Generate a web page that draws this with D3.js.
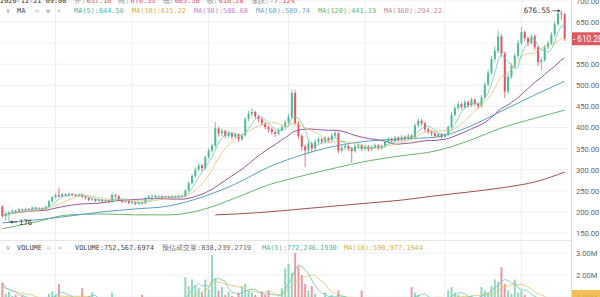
<!DOCTYPE html>
<html><head><meta charset="utf-8">
<script src="https://cdn.jsdelivr.net/npm/d3@7/dist/d3.min.js"></script>
<style>
body{margin:0;background:#fff;overflow:hidden}
svg{display:block}
text{font-family:"DejaVu Sans Mono",monospace;font-size:6.9px}
.ax{font-family:Roboto,"DejaVu Sans",sans-serif;font-size:7.6px;fill:#666}
</style></head><body>
<svg id="chart" width="600" height="297"></svg>
<script>
'use strict';

// daily candles, open = previous close
var firstOpen=212;
var closes=[190,196,199,203,200,206,204,207,205,210,207,209,206,212,225,235,240,237,242,239,
  243,240,238,241,236,233,228,230,226,229,225,227,224,240,237,228,224,226,221,223,
  219,222,220,232,236,238,235,237,234,236,233,237,235,238,236,250,268,285,300,310,
  304,330,345,357,398,386,392,380,387,378,384,372,381,420,432,437,426,420,410,401,
  396,389,385,394,401,412,425,482,410,380,355,346,362,351,366,372,367,375,370,381,
  386,345,352,356,350,344,355,358,349,355,348,353,358,351,356,366,372,368,376,370,
  378,373,381,376,405,416,410,396,390,386,380,384,378,383,401,430,446,455,448,460,
  452,466,456,450,472,502,530,562,582,616,575,485,520,545,570,600,626,612,600,616,
  590,555,560,590,600,620,645,670,668,610.28];
var highs=[216,199,202,206,205,209,208,210,209,213,212,212,211,215,228,238,244,258,245,244,
  246,245,242,244,243,238,235,233,232,232,231,230,229,246,243,239,230,229,228,226,
  225,225,224,235,240,241,240,240,239,239,238,240,239,241,240,254,272,290,306,316,
  314,335,350,362,413,402,398,395,392,390,389,386,386,425,440,446,440,430,424,414,
  405,400,393,398,406,418,432,490,488,415,384,360,368,366,372,378,376,380,378,386,
  393,390,358,361,359,354,360,363,361,359,358,357,362,361,360,370,377,376,380,379,
  382,381,385,384,410,422,420,413,399,394,389,388,387,387,405,436,452,462,460,466,
  464,471,469,460,477,508,538,570,592,630,622,580,528,552,577,608,638,630,616,622,
  620,594,566,596,606,626,652,675,676.55,672];
var lows=[186,180,176,196,197,198,201,202,202,203,204,205,203,204,210,222,232,234,234,236,
  236,237,235,235,233,230,225,225,223,223,222,222,221,222,233,225,221,221,218,218,
  216,216,217,218,230,233,232,232,231,231,230,230,232,232,233,234,248,265,280,296,
  296,300,325,340,352,378,380,374,375,372,373,365,368,378,415,425,420,412,404,395,
  388,383,378,381,390,398,408,420,405,372,345,306,338,340,345,360,360,362,364,366,
  377,338,340,347,345,316,340,350,344,345,343,344,349,346,347,352,362,363,364,365,
  366,368,370,371,374,400,404,390,385,380,375,376,373,375,380,398,426,440,442,444,
  446,448,450,444,447,468,498,525,556,576,568,470,480,515,540,563,595,604,592,596,
  584,545,535,555,585,595,615,640,655,605];
// volume, millions
var volumes=[1.65,1.15,1.25,1.05,1.1,0.95,1.05,0.9,0.85,1.0,0.8,0.85,0.75,0.9,1.15,1.25,1.1,1.6,1.0,0.85,
  0.9,0.8,0.75,0.85,1.4,0.9,1.05,1.2,0.8,0.75,0.8,0.7,0.75,1.2,0.9,0.8,0.7,0.65,0.7,0.6,
  0.65,0.7,1.1,0.95,0.8,0.75,0.7,0.65,0.7,0.6,0.65,0.7,0.6,0.75,0.8,1.9,1.5,1.8,1.55,1.4,
  1.2,1.8,1.35,2.9,1.85,1.3,1.45,1.1,1.25,1.05,1.0,1.2,1.5,1.6,1.3,1.2,1.1,1.0,1.25,1.1,
  1.3,0.95,0.9,1.0,1.4,2.3,2.5,2.1,3.0,2.4,2.0,1.6,1.3,1.5,1.15,1.0,0.9,1.2,0.85,1.1,
  0.95,1.3,0.9,0.8,0.85,1.0,0.8,0.75,1.3,0.8,0.85,0.7,0.75,0.8,0.7,0.9,0.85,0.8,0.9,0.75,
  0.8,0.7,0.85,1.45,1.2,1.1,0.95,1.0,0.85,0.8,0.9,0.75,0.8,0.85,1.3,1.45,1.2,1.1,0.95,1.0,
  0.9,1.05,0.95,0.9,1.45,1.3,1.2,1.5,1.8,1.7,2.35,1.6,1.3,1.15,1.8,1.2,1.3,1.1,0.95,1.0,
  0.8,0.9,0.7,0.6,0.55,0.5,0.6,0.7,0.75,0.75];

var maIdx=[0,10,20,30,40,50,60,70,80,90,100,110,120,130,140,150,160,169];
var ma60=[174,181,190,200,207,214,235,266,306,335,356,368,373,377,401,439,477,509.74];
var ma120=[160,176,193,195,193,193,205,233,264,285,304,321,333,344,368,399,422,441.19];
var ma360Idx=[64,70,80,90,100,110,120,130,140,150,160,169];
var ma360=[193,195,200,207,214,221,228,238,247,257,271,294.22];

var priceTicks=[150,200,250,300,350,400,450,500,550,600,650,700];
var priceLabels=[150,200,250,300,350,400,450,500,550,650,700];
var volTicks=[1,2,3];
var gridIdx=[16,39,62,86,109,133,156];

var lastPrice=610.28, highMark=168, lowMark=2;

var up='#4fba95', dn='#dc5862';
var maCol={ma5:'#6cc8b8',ma10:'#e6c170',ma30:'#95569a',ma60:'#5b9fc0',ma120:'#69b56a',ma360:'#a24f4a'};

var svg=d3.select('#chart')
  , W=600, H=297, plotR=571

var x=d3.scaleBand().domain(d3.range(closes.length)).range([0,567]).padding(0.4)
  , cx=function(i){return x(i)+x.bandwidth()/2;}
  , y=d3.scaleLinear().domain([150,650]).range([233,22])
  , yv=d3.scaleLinear().domain([0,3]).range([319,253])

var opens=closes.map(function(c,i){return i?closes[i-1]:firstOpen;});

function movingAvg(a,n){
    return a.map(function(v,i){
        var s=a.slice(Math.max(0,i-n+1),i+1);
        return d3.mean(s);
    });
}

var defs=svg.append('defs');
defs.append('clipPath').attr('id','cp').append('rect')
    .attr('x',0).attr('y',0).attr('width',plotR).attr('height',240);
defs.append('clipPath').attr('id','cv').append('rect')
    .attr('x',0).attr('y',252).attr('width',plotR).attr('height',45);

// grid
var grid=svg.append('g');
grid.selectAll('line.h').data(priceTicks).enter().append('line')
    .attr('x1',0).attr('x2',plotR)
    .attr('y1',function(d){return y(d);}).attr('y2',function(d){return y(d);})
    .attr('stroke','#f1f1f1');
grid.selectAll('line.vh').data(volTicks).enter().append('line')
    .attr('x1',0).attr('x2',plotR)
    .attr('y1',function(d){return yv(d);}).attr('y2',function(d){return yv(d);})
    .attr('stroke','#f1f1f1');
grid.selectAll('line.v').data(gridIdx).enter().append('line')
    .attr('x1',cx).attr('x2',cx).attr('y1',0).attr('y2',H)
    .attr('stroke','#eeeeee');
svg.append('line').attr('x1',0).attr('x2',plotR).attr('y1',240.5).attr('y2',240.5)
    .attr('stroke','#e6e6e6');
svg.append('line').attr('x1',plotR+0.5).attr('x2',plotR+0.5).attr('y1',0).attr('y2',H)
    .attr('stroke','#dcdcdc');

// price pane
var pp=svg.append('g').attr('clip-path','url(#cp)');

function drawLine(g,idx,vals,col,sc,curve,w){
    g.append('path')
        .datum(idx.map(function(d,k){return [d,vals[k]];}))
        .attr('fill','none').attr('stroke',col).attr('stroke-width',w||1)
        .attr('d',d3.line()
            .x(function(d){return cx(d[0]);})
            .y(function(d){return sc(d[1]);})
            .curve(curve||d3.curveLinear));
}

drawLine(pp,ma360Idx,ma360,maCol.ma360,y,d3.curveMonotoneX);
drawLine(pp,maIdx,ma120,maCol.ma120,y,d3.curveMonotoneX);
drawLine(pp,maIdx,ma60,maCol.ma60,y,d3.curveMonotoneX);

var allIdx=d3.range(closes.length);
drawLine(pp,allIdx,movingAvg(closes,30),maCol.ma30,y);

var candle=pp.selectAll('g.c').data(allIdx).enter().append('g');
candle.append('line')
    .attr('x1',cx).attr('x2',cx)
    .attr('y1',function(i){return y(highs[i]);})
    .attr('y2',function(i){return y(lows[i]);})
    .attr('stroke',function(i){return closes[i]>=opens[i]?up:dn;})
    .attr('stroke-width',0.8);
candle.append('rect')
    .attr('x',function(i){return x(i);})
    .attr('width',x.bandwidth())
    .attr('y',function(i){return y(Math.max(opens[i],closes[i]));})
    .attr('height',function(i){return Math.max(0.8,Math.abs(y(opens[i])-y(closes[i])));})
    .attr('fill',function(i){return closes[i]>=opens[i]?up:dn;});

drawLine(pp,allIdx,movingAvg(closes,10),maCol.ma10,y,null,0.8);
drawLine(pp,allIdx,movingAvg(closes,5),maCol.ma5,y,null,0.8);

// high / low markers
var hx=cx(highMark), hy=y(highs[highMark]);
svg.append('line').attr('x1',hx-9).attr('x2',hx-1).attr('y1',hy).attr('y2',hy)
    .attr('stroke','#333').attr('stroke-width',0.7);
svg.append('path').attr('d','M'+(hx-1)+','+hy+'l-2.5,-1.5v3z').attr('fill','#333');
svg.append('text').attr('x',hx-11).attr('y',hy+2.4).attr('text-anchor','end')
    .attr('fill','#333').style('font-size','7.4px').text(d3.format('.2f')(highs[highMark]));
var lx=cx(lowMark), ly=y(lows[lowMark]);
svg.append('line').attr('x1',lx+1).attr('x2',lx+8).attr('y1',ly).attr('y2',ly)
    .attr('stroke','#333').attr('stroke-width',0.7);
svg.append('path').attr('d','M'+(lx+1)+','+ly+'l2.5,-1.5v3z').attr('fill','#333');
svg.append('text').attr('x',lx+10).attr('y',ly+2.6)
    .attr('fill','#333').style('font-size','7.4px').text(d3.format('d')(lows[lowMark]));

// volume pane
var vp=svg.append('g').attr('clip-path','url(#cv)');
vp.selectAll('rect').data(allIdx).enter().append('rect')
    .attr('x',function(i){return x(i);})
    .attr('width',x.bandwidth())
    .attr('y',function(i){return yv(volumes[i]);})
    .attr('height',function(i){return yv(0)-yv(volumes[i]);})
    .attr('fill',function(i){return closes[i]>=opens[i]?up:dn;})
    .attr('fill-opacity',0.6);
drawLine(vp,allIdx,movingAvg(volumes,10),maCol.ma10,yv,null,0.8);
drawLine(vp,allIdx,movingAvg(volumes,5),maCol.ma5,yv,null,0.8);

// axes
var ax=svg.append('g').attr('transform','translate('+(plotR+5)+',0)')
    .call(d3.axisRight(y).tickValues(priceLabels).tickSize(0).tickPadding(0)
        .tickFormat(d3.format('.2f')));
ax.select('.domain').remove();
ax.selectAll('text').attr('class','ax').attr('font-family',null).attr('font-size',null);

var av=svg.append('g').attr('transform','translate('+(plotR+5)+',0)')
    .call(d3.axisRight(yv).tickValues(volTicks).tickSize(0).tickPadding(0)
        .tickFormat(function(d){return d3.format('.2f')(d)+'M';}));
av.select('.domain').remove();
av.selectAll('text').attr('class','ax').attr('font-family',null).attr('font-size',null);

// last price tag
var ly2=y(lastPrice);
svg.append('rect').attr('x',plotR+1).attr('y',ly2-6.5).attr('width',30).attr('height',13)
    .attr('fill','#dd5a63');
svg.append('text').attr('x',plotR+2).attr('y',ly2+2.8).attr('fill','#fff')
    .attr('class','ax').style('fill','#fff').style('font-size','8.2px')
    .text('- '+d3.format('.2f')(lastPrice));

// last volume tag
svg.append('rect').attr('x',plotR+1).attr('y',290).attr('width',30).attr('height',8)
    .attr('fill','#f0b43c').attr('fill-opacity',0.85);

// legends, laid out left to right
function legendRow(items,x0,yb){
    var g=svg.append('g'), cur=x0;
    items.forEach(function(d){
        var t=g.append('text').attr('x',cur).attr('y',yb).attr('fill',d[1]).text(d[0]);
        cur+=t.node().getComputedTextLength()+d[2];
    });
}

legendRow([
    ['2020-12-21 09:00','#333',8],['开:','#888',1],['657.10','#dd5a63',7],
    ['高:','#888',1],['676.55','#dd5a63',7],['低:','#888',1],['605.50','#dd5a63',7],
    ['收:','#888',1],['610.28','#dd5a63',7],['涨跌:','#888',1],['-7.12%','#dd5a63',7]
],0,2.6);

var row2=[
    ['∨',6,'#999'],['MA',17,'#444'],['◎',35,'#bbb'],['◉',46,'#bbb'],['×',57,'#bbb'],
    ['MA(5):644.56',74,'#4db5a3'],['MA(10):615.22',132,'#d9ae45'],
    ['MA(30):586.68',194,'#c586cb'],['MA(60):509.74',256,'#6ba6c7'],
    ['MA(120):441.19',318,'#6bb56c'],['MA(360):294.22',384,'#c98b96']
];
svg.append('g').selectAll('text').data(row2).enter().append('text')
    .attr('x',function(d){return d[1];}).attr('y',12.6)
    .attr('fill',function(d){return d[2];}).text(function(d){return d[0];});

var row3=[
    ['∨',6,'#999'],['VOLUME',17,'#444'],['◎',47,'#bbb'],['×',58,'#bbb'],
    ['VOLUME:752,567.6974',75,'#444'],['预估成交量:838,239.2719',162,'#666'],
    ['MA(5):772,246.1930',262,'#4db5a3'],['MA(10):590,977.1944',344,'#d9ae45']
];
svg.append('g').selectAll('text').data(row3).enter().append('text')
    .attr('x',function(d){return d[1];}).attr('y',249.6)
    .attr('fill',function(d){return d[2];}).text(function(d){return d[0];});
</script>
</body></html>
